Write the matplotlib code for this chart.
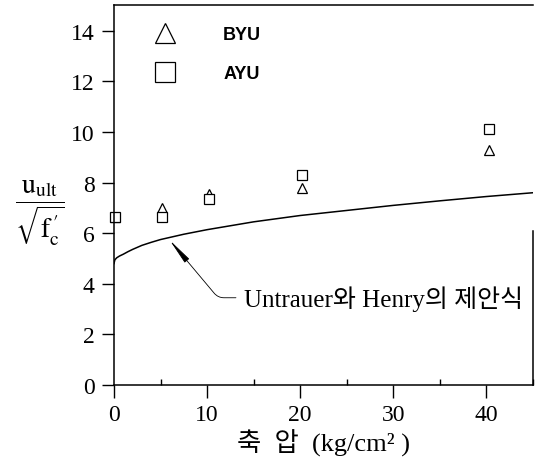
import matplotlib.pyplot as plt
from matplotlib.ticker import MultipleLocator

plt.rcParams['mathtext.fontset'] = 'stix'

# axial pressure (kg/cm2) and u_ult / sqrt(fc')
press = [0.1, 5.2, 10.2, 20.2, 40.3]
byu = [6.65, 7.0, 7.55, 7.8, 9.3]
ayu = [6.65, 6.65, 7.35, 8.3, 10.1]

# Untrauer & Henry curve
curve_x = [0, 0.1, 0.3, 0.6, 1, 1.5, 2, 3, 4, 5, 7.5, 10, 15, 20, 25, 30, 35, 40, 45]
curve_y = [4.8, 4.95, 5.03, 5.1, 5.17, 5.27, 5.36, 5.52, 5.64, 5.75, 5.96, 6.14, 6.45, 6.7, 6.9, 7.1, 7.28, 7.45, 7.6]

serif_kr = ['Liberation Serif', 'Noto Sans CJK KR']

fig = plt.figure(figsize=(5.35, 4.64), dpi=100)
ax = fig.add_axes([0.213, 0.168, 0.783, 0.818])

ax.plot(curve_x, curve_y, color='black', lw=1.1)
ax.plot(press, byu, '^', ms=7, mfc='white', mec='black', mew=0.9, label='BYU', clip_on=False)
ax.plot(press, ayu, 's', ms=7, mfc='white', mec='black', mew=0.9, label='AYU', clip_on=False)

ax.set_xlim(0, 45)
ax.set_ylim(0, 15)
ax.set_xticks([0, 10, 20, 30, 40])
ax.set_yticks(range(0, 15, 2))
ax.xaxis.set_minor_locator(MultipleLocator(5))
ax.tick_params(axis='both', which='major', direction='out', length=9, width=1,
               labelsize=17, pad=5)
ax.tick_params(axis='x', which='minor', direction='in', length=4, width=1)
for lab in ax.get_xticklabels() + ax.get_yticklabels():
    lab.set_family('Liberation Serif')
for s in ax.spines.values():
    s.set_linewidth(1.1)
ax.spines['right'].set_bounds(0, 6.1)

ax.legend(loc='upper left', bbox_to_anchor=(0.058, 0.988), frameon=False,
          markerscale=2.0, handlelength=1.2, handletextpad=2.6,
          labelspacing=1.2, prop={'family': 'Liberation Sans', 'weight': 'bold', 'size': 13})

ax.annotate('Untrauer와 Henry의 제안식', xy=(6.0, 5.72), xytext=(14.0, 3.45),
            fontsize=18, family=serif_kr, va='center', ha='left',
            arrowprops=dict(arrowstyle='-|>,head_length=0.9,head_width=0.1',
                            color='black', lw=0.6, shrinkA=4, shrinkB=0,
                            connectionstyle='angle,angleA=0,angleB=-50,rad=6'))

fig.text(0.075, 0.54, r'$\dfrac{\mathrm{u}_{\mathrm{ult}}}{\sqrt{\mathrm{f}_{\mathrm{c}}^{\,\prime}}}$',
         fontsize=20, ha='center', va='center')
ax.set_xlabel('축  압  (kg/cm² )', fontsize=19, family=serif_kr, labelpad=2)

fig.savefig('out.png', dpi=100)
